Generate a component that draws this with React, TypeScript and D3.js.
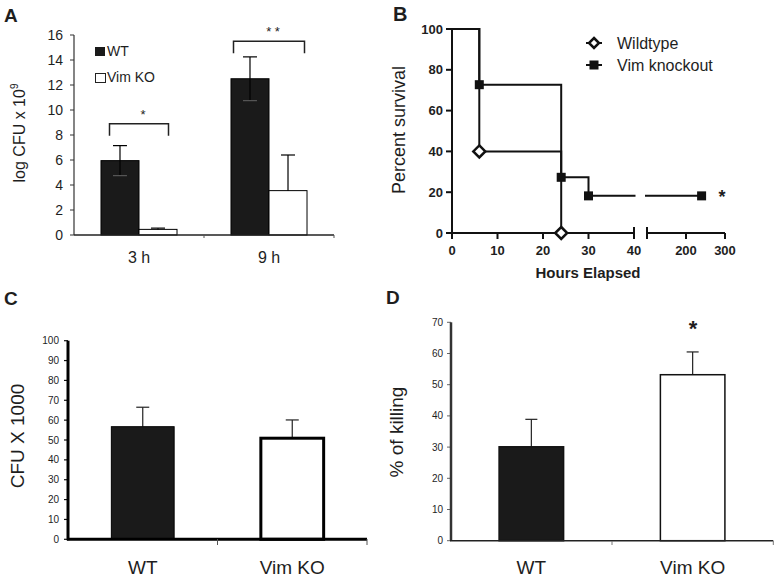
import React from "react";
import * as d3 from "d3";

// ---------- Panel A data ----------
const timepointsA = ["3 h", "9 h"];
const seriesA = ["WT", "Vim KO"];
const wtLogCfu = [5.95, 12.5];
const wtLogCfuErr = [1.2, 1.75];
const koLogCfu = [0.45, 3.55];
const koLogCfuErr = [0.1, 2.85];
const ticksA = [0, 2, 4, 6, 8, 10, 12, 14, 16];
const sigLabelsA = ["*", "* *"];
const sigLevelA = [8.9, 15.5];

// ---------- Panel B data ----------
const wtHours = [0, 6, 24];
const wtSurvival = [100, 40, 0];
const koHours = [0, 6, 24, 30, 240];
const koSurvival = [100, 72.7, 27.3, 18.2, 18.2];
const survivalYTicks = [0, 20, 40, 60, 80, 100];
const hoursTicksLow = [0, 10, 20, 30, 40];
const hoursTicksHigh = [200, 300];
const legendB = ["Wildtype", "Vim knockout"];

// ---------- Panel C/D data ----------
const groupsCD = ["WT", "Vim KO"];
const cfuC = [56.7, 50.9];
const cfuCErr = [9.8, 9.2];
const ticksC = [0, 10, 20, 30, 40, 50, 60, 70, 80, 90, 100];
const killingD = [30.1, 53.2];
const killingDErr = [8.8, 7.3];
const ticksD = [0, 10, 20, 30, 40, 50, 60, 70];

const FONT = "'Liberation Sans', Arial, Helvetica, sans-serif";
const TXT = "#1e1e1e";
const DARK = "#1a1a1a";

function PanelA() {
  const y = d3.scaleLinear().domain([0, 16]).range([235, 35]);
  const x = d3.scaleBand<string>().domain(timepointsA).range([74, 334]).padding(0);
  const inner = d3.scaleBand<string>().domain(seriesA).range([0, x.bandwidth()]).paddingInner(0).paddingOuter(0.71);
  const halfW = [29.5, 35.5];
  return (
    <g fontFamily={FONT}>
      <text x={4} y={22} fontSize={19} fontWeight="bold" fill={TXT}>A</text>
      {/* y axis */}
      <line x1={74} x2={74} y1={y(16)} y2={y(0)} stroke="#333" strokeWidth={1.2} />
      {ticksA.map((t) => (
        <g key={t}>
          <line x1={70} x2={74} y1={y(t)} y2={y(t)} stroke="#333" strokeWidth={1} />
          <text x={63} y={y(t)} dy="0.35em" textAnchor="end" fontSize={14} fill={TXT}>{t}</text>
        </g>
      ))}
      <text transform={`translate(25,${133}) rotate(-90)`} textAnchor="middle" fontSize={16} fill={TXT}>
        log CFU x 10<tspan fontSize={10} dy={-7}>9</tspan>
      </text>
      {/* bars */}
      {timepointsA.map((tp, i) => {
        const x0 = x(tp)!;
        const xw = x0 + inner("WT")!;
        const xk = x0 + inner("Vim KO")!;
        const bw = inner.bandwidth();
        const cw = x0 + inner("WT")! + bw / 2;
        const ck = x0 + inner("Vim KO")! + bw / 2;
        const gc = x0 + x.bandwidth() / 2;
        return (
          <g key={tp}>
            <rect x={xw} y={y(wtLogCfu[i])} width={bw} height={y(0) - y(wtLogCfu[i])} fill={DARK} stroke="#000" strokeWidth={1} />
            <rect x={xk} y={y(koLogCfu[i])} width={bw} height={y(0) - y(koLogCfu[i])} fill="#fff" stroke="#000" strokeWidth={1} />
            <line x1={cw} x2={cw} y1={y(wtLogCfu[i] + wtLogCfuErr[i])} y2={y(wtLogCfu[i] - wtLogCfuErr[i])} stroke="#000" strokeWidth={1.2} />
            <line x1={cw - 7} x2={cw + 7} y1={y(wtLogCfu[i] + wtLogCfuErr[i])} y2={y(wtLogCfu[i] + wtLogCfuErr[i])} stroke="#000" strokeWidth={1.2} />
            <line x1={cw - 7} x2={cw + 7} y1={y(wtLogCfu[i] - wtLogCfuErr[i])} y2={y(wtLogCfu[i] - wtLogCfuErr[i])} stroke="#555" strokeWidth={1.2} />
            <line x1={ck} x2={ck} y1={y(koLogCfu[i] + koLogCfuErr[i])} y2={y(koLogCfu[i])} stroke="#000" strokeWidth={1.2} />
            <line x1={ck - 7} x2={ck + 7} y1={y(koLogCfu[i] + koLogCfuErr[i])} y2={y(koLogCfu[i] + koLogCfuErr[i])} stroke="#000" strokeWidth={1.2} />
            {/* significance bracket */}
            <path d={`M${gc - halfW[i]},${y(sigLevelA[i]) + 12}V${y(sigLevelA[i])}H${gc + halfW[i]}V${y(sigLevelA[i]) + 12}`} fill="none" stroke="#222" strokeWidth={1.5} />
            <text x={gc + 4} y={y(sigLevelA[i]) - 5} textAnchor="middle" fontSize={13} fill={TXT}>{sigLabelsA[i]}</text>
            <text x={gc} y={263} textAnchor="middle" fontSize={16} fill={TXT}>{tp}</text>
          </g>
        );
      })}
      {/* x axis */}
      <line x1={74} x2={334} y1={235} y2={235} stroke="#222" strokeWidth={1.5} />
      {[x("9 h")!, 334].map((v, i) => (
        <line key={i} x1={v} x2={v} y1={235} y2={238} stroke="#555" strokeWidth={1} />
      ))}
      {/* legend */}
      <rect x={95} y={47} width={10} height={9} fill={DARK} />
      <text x={107} y={56} fontSize={14} fill={TXT}>WT</text>
      <rect x={95.5} y={73.5} width={10} height={9} fill="#fff" stroke="#222" strokeWidth={1} />
      <text x={107} y={82} fontSize={14} fill={TXT}>Vim KO</text>
    </g>
  );
}

function PanelB() {
  const y = d3.scaleLinear().domain([0, 100]).range([233, 29]);
  const xLow = d3.scaleLinear().domain([0, 40]).range([452, 634]);
  const xHigh = d3.scaleLinear().domain([100, 300]).range([647, 725]);
  const xs = (t: number) => (t <= 40 ? xLow(t) : xHigh(t));

  const stepPath = (hours: number[], surv: number[]) => {
    const parts: string[] = [];
    let d = `M${xs(hours[0])},${y(surv[0])}`;
    for (let i = 1; i < hours.length; i++) {
      const hPrev = hours[i - 1];
      const h = hours[i];
      if (hPrev <= 40 && h > 40) {
        d += `H${xLow(40) + 1.5}`;
        parts.push(d);
        d = `M${xHigh(100) - 2},${y(surv[i - 1])}H${xs(h)}V${y(surv[i])}`;
      } else {
        d += `H${xs(h)}V${y(surv[i])}`;
      }
    }
    parts.push(d);
    return parts.join(" ");
  };

  const diamond = (cx: number, cy: number, r: number) => `M${cx},${cy - r}L${cx + r},${cy}L${cx},${cy + r}L${cx - r},${cy}Z`;

  return (
    <g fontFamily={FONT}>
      <text x={393} y={21} fontSize={20} fontWeight="bold" fill={TXT}>B</text>
      {/* y axis */}
      <line x1={452} x2={452} y1={y(100)} y2={y(0)} stroke="#111" strokeWidth={2} />
      {survivalYTicks.map((t) => (
        <g key={t}>
          <line x1={446} x2={452} y1={y(t)} y2={y(t)} stroke="#111" strokeWidth={2} />
          <text x={443} y={y(t)} dy="0.35em" textAnchor="end" fontSize={13} fontWeight="bold" fill={TXT}>{t}</text>
        </g>
      ))}
      <text transform={`translate(405,130) rotate(-90)`} textAnchor="middle" fontSize={18} fill={TXT}>Percent survival</text>
      {/* x axis, broken */}
      <line x1={451} x2={xLow(40)} y1={233} y2={233} stroke="#111" strokeWidth={2} />
      <line x1={xHigh(100)} x2={xHigh(300)} y1={233} y2={233} stroke="#111" strokeWidth={2} />
      {hoursTicksLow.map((t) => (
        <g key={t}>
          <line x1={xLow(t)} x2={xLow(t)} y1={233} y2={239} stroke="#111" strokeWidth={2} />
          <text x={xLow(t)} y={255} textAnchor="middle" fontSize={13} fontWeight="bold" fill={TXT}>{t}</text>
        </g>
      ))}
      <line x1={xLow(40)} x2={xLow(40)} y1={227} y2={239} stroke="#111" strokeWidth={2} />
      <line x1={xHigh(100)} x2={xHigh(100)} y1={227} y2={239} stroke="#111" strokeWidth={2} />
      {hoursTicksHigh.map((t) => (
        <g key={t}>
          <line x1={xHigh(t)} x2={xHigh(t)} y1={233} y2={239} stroke="#111" strokeWidth={2} />
          <text x={xHigh(t)} y={255} textAnchor="middle" fontSize={13} fontWeight="bold" fill={TXT}>{t}</text>
        </g>
      ))}
      <text x={588} y={278} textAnchor="middle" fontSize={15} fontWeight="bold" fill={TXT}>Hours Elapsed</text>
      {/* survival curves */}
      <path d={stepPath(wtHours, wtSurvival)} fill="none" stroke="#111" strokeWidth={2} />
      <path d={stepPath(koHours, koSurvival)} fill="none" stroke="#111" strokeWidth={2} />
      {koHours.slice(1).map((h, i) => (
        <rect key={h} x={xs(h) - 4.5} y={y(koSurvival[i + 1]) - 4.5} width={9} height={9} fill="#111" />
      ))}
      {wtHours.slice(1).map((h, i) => (
        <path key={h} d={diamond(xs(h), y(wtSurvival[i + 1]), 6)} fill="#fff" stroke="#111" strokeWidth={2.5} />
      ))}
      <text x={722} y={203} textAnchor="middle" fontSize={18} fontWeight="bold" fill={TXT}>*</text>
      {/* legend */}
      <line x1={586} x2={602} y1={43} y2={43} stroke="#111" strokeWidth={2} />
      <path d={diamond(594, 43, 5)} fill="#fff" stroke="#111" strokeWidth={2.5} />
      <text x={617} y={48.5} fontSize={16} fill={TXT}>{legendB[0]}</text>
      <line x1={586} x2={602} y1={65} y2={65} stroke="#111" strokeWidth={2} />
      <rect x={589.5} y={60.5} width={9} height={9} fill="#111" />
      <text x={617} y={70.5} fontSize={16} fill={TXT}>{legendB[1]}</text>
    </g>
  );
}

function PanelC() {
  const y = d3.scaleLinear().domain([0, 100]).range([539.3, 340.7]);
  const x = d3.scaleBand<string>().domain(groupsCD).range([68, 367]).padding(0);
  const bw = x.bandwidth() * 0.42;
  return (
    <g fontFamily={FONT}>
      <text x={4} y={305} fontSize={19} fontWeight="bold" fill={TXT}>C</text>
      {ticksC.map((t) => (
        <g key={t}>
          <line x1={64} x2={68} y1={y(t)} y2={y(t)} stroke="#111" strokeWidth={1.2} />
          <text x={59} y={y(t)} dy="0.35em" textAnchor="end" fontSize={10} fill={TXT}>{t}</text>
        </g>
      ))}
      <text transform={`translate(24,436) rotate(-90)`} textAnchor="middle" fontSize={19} fill={TXT}>CFU X 1000</text>
      {groupsCD.map((g, i) => {
        const c = x(g)! + x.bandwidth() / 2;
        const top = y(cfuC[i] + cfuCErr[i]);
        return (
          <g key={g}>
            <line x1={c} x2={c} y1={top} y2={y(cfuC[i])} stroke="#222" strokeWidth={1.2} />
            <line x1={c - 6.5} x2={c + 6.5} y1={top} y2={top} stroke="#222" strokeWidth={1.2} />
            <rect x={c - bw / 2} y={y(cfuC[i])} width={bw} height={y(0) - y(cfuC[i])} fill={i === 0 ? DARK : "#fff"} stroke="#000" strokeWidth={i === 0 ? 1 : 3} />
            <text x={c} y={574} textAnchor="middle" fontSize={19} fill={TXT}>{g}</text>
          </g>
        );
      })}
      <line x1={68} x2={68} y1={y(100)} y2={y(0) + 1} stroke="#000" strokeWidth={3} />
      <line x1={67} x2={367} y1={539.3} y2={539.3} stroke="#000" strokeWidth={3} />
      {[x("Vim KO")!, 367].map((v, i) => (
        <line key={i} x1={v} x2={v} y1={539} y2={545} stroke="#555" strokeWidth={1} />
      ))}
    </g>
  );
}

function PanelD() {
  const y = d3.scaleLinear().domain([0, 70]).range([540.7, 322.3]);
  const x = d3.scaleBand<string>().domain(groupsCD).range([450.7, 773.3]).padding(0);
  const bw = x.bandwidth() * 0.4;
  return (
    <g fontFamily={FONT}>
      <text x={386} y={304} fontSize={19} fontWeight="bold" fill={TXT}>D</text>
      {ticksD.map((t) => (
        <g key={t}>
          <line x1={447} x2={451} y1={y(t)} y2={y(t)} stroke="#666" strokeWidth={1} />
          <text x={443} y={y(t)} dy="0.35em" textAnchor="end" fontSize={10} fill={TXT}>{t}</text>
        </g>
      ))}
      <text transform={`translate(403,432) rotate(-90)`} textAnchor="middle" fontSize={19} fill={TXT}>% of killing</text>
      {groupsCD.map((g, i) => {
        const c = x(g)! + x.bandwidth() / 2;
        const top = y(killingD[i] + killingDErr[i]);
        return (
          <g key={g}>
            <line x1={c} x2={c} y1={top} y2={y(killingD[i])} stroke="#222" strokeWidth={1.2} />
            <line x1={c - 6} x2={c + 6} y1={top} y2={top} stroke="#222" strokeWidth={1.2} />
            <rect x={c - bw / 2} y={y(killingD[i])} width={bw} height={y(0) - y(killingD[i])} fill={i === 0 ? DARK : "#fff"} stroke="#111" strokeWidth={1.5} />
            <text x={c} y={574} textAnchor="middle" fontSize={19} fill={TXT}>{g}</text>
          </g>
        );
      })}
      <text x={693} y={336} textAnchor="middle" fontSize={22} fontWeight="bold" fill={TXT}>*</text>
      <line x1={451} x2={451} y1={y(70)} y2={y(0)} stroke="#333" strokeWidth={2.5} />
      <line x1={450} x2={773.3} y1={540.7} y2={540.7} stroke="#222" strokeWidth={1.5} />
      {[x("Vim KO")!, 773.3].map((v, i) => (
        <line key={i} x1={v} x2={v} y1={541} y2={545} stroke="#777" strokeWidth={1} />
      ))}
    </g>
  );
}

export default function App() {
  return (
    <svg
      width={779}
      height={579}
      viewBox="0 0 779 579"
      style={{ position: "absolute", left: 0, top: 0, background: "#fff" }}
    >
      <rect width={779} height={579} fill="#fff" />
      <PanelA />
      <PanelB />
      <PanelC />
      <PanelD />
    </svg>
  );
}
